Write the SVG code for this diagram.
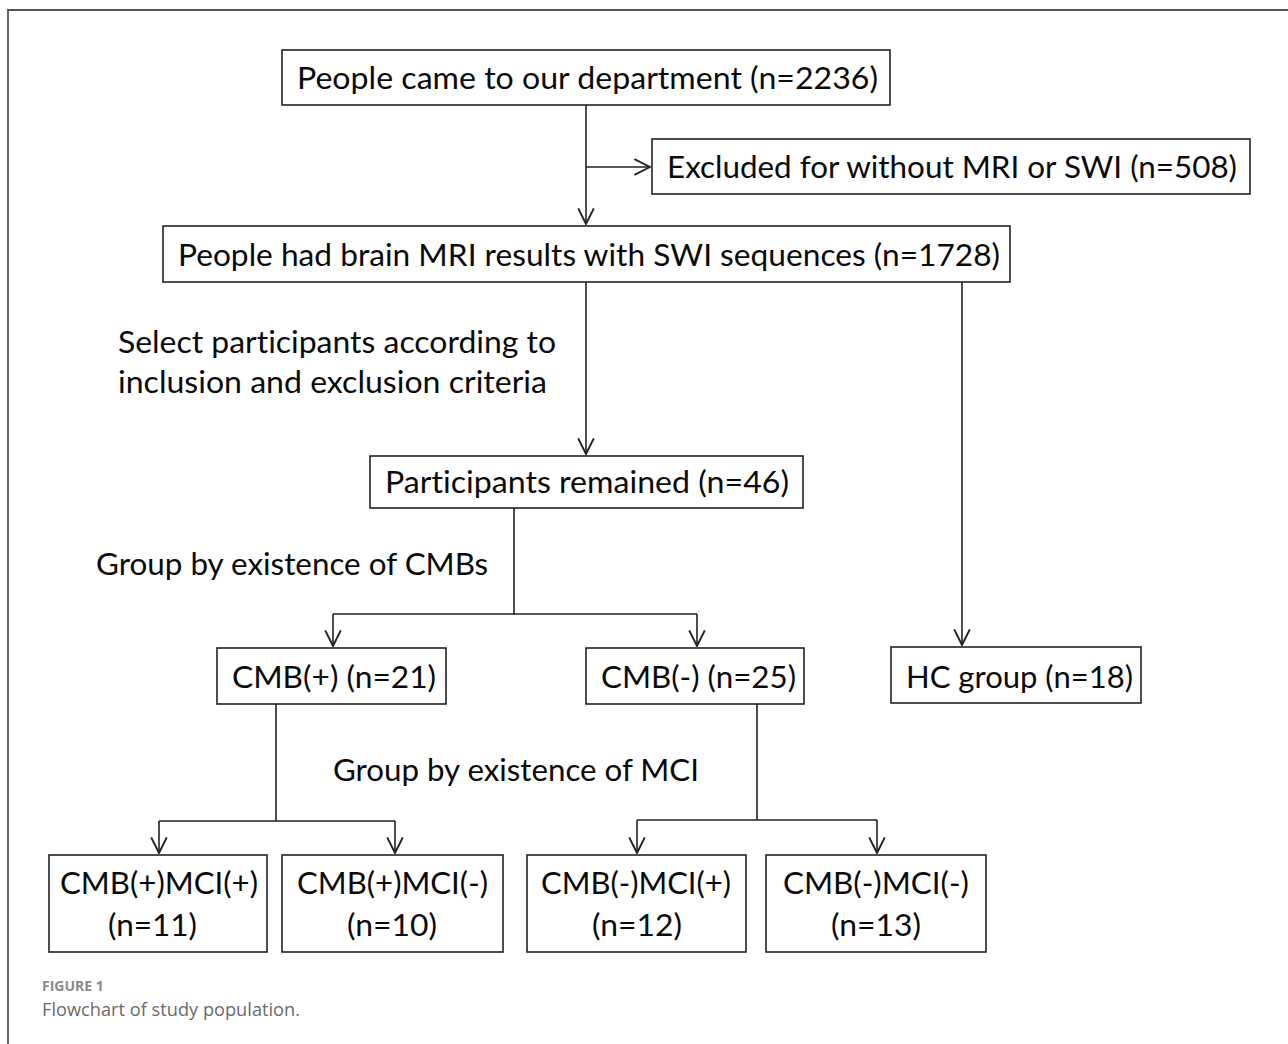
<svg xmlns="http://www.w3.org/2000/svg" width="1288" height="1044" viewBox="0 0 1288 1044">
<style>
.box{fill:#fff;stroke:#222;stroke-width:1.6}
.t{font-family:Lato,"Open Sans","Liberation Sans",sans-serif;font-size:31px;fill:#0a0a0a;font-variant-ligatures:none}
.ln{fill:none;stroke:#222;stroke-width:1.6}
.frame{fill:none;stroke:#555;stroke-width:1.8}
.cap1{font-family:"Open Sans","Noto Sans","Liberation Sans",sans-serif;font-size:14px;font-weight:bold;fill:#8a8a8a}
.cap2{font-family:"Open Sans","Noto Sans","Liberation Sans",sans-serif;font-size:19px;fill:#6a6a6a}
</style>
<defs>
<marker id="ah" markerUnits="userSpaceOnUse" markerWidth="18" markerHeight="18" viewBox="0 0 15 15" refX="14" refY="7.5" orient="auto">
<path d="M1,1 L14,7.5 L1,14" fill="none" stroke="#222" stroke-width="1.6"/>
</marker>
</defs>
<rect width="1288" height="1044" fill="#fff"/>
<path class="frame" d="M8,1044 V10 H1288"/>
<g id="connectors">
<path class="ln" d="M586,105 V224" marker-end="url(#ah)"/>
<path class="ln" d="M586,167 H650" marker-end="url(#ah)"/>
<path class="ln" d="M586,282 V454" marker-end="url(#ah)"/>
<path class="ln" d="M962,282 V645" marker-end="url(#ah)"/>
<path class="ln" d="M514,508 V614 M333,614 H697"/>
<path class="ln" d="M333,614 V646" marker-end="url(#ah)"/>
<path class="ln" d="M697,614 V646" marker-end="url(#ah)"/>
<path class="ln" d="M276,704 V821 M159,821 H395"/>
<path class="ln" d="M159,821 V853" marker-end="url(#ah)"/>
<path class="ln" d="M395,821 V853" marker-end="url(#ah)"/>
<path class="ln" d="M757,704 V820 M637,820 H877"/>
<path class="ln" d="M637,820 V853" marker-end="url(#ah)"/>
<path class="ln" d="M877,820 V853" marker-end="url(#ah)"/>
</g>
<g id="labels">
<text class="t" x="118" y="353" textLength="438" lengthAdjust="spacingAndGlyphs">Select participants according to</text>
<text class="t" x="118" y="393" textLength="429" lengthAdjust="spacingAndGlyphs">inclusion and exclusion criteria</text>
<text class="t" x="96" y="575" textLength="392" lengthAdjust="spacingAndGlyphs">Group by existence of CMBs</text>
<text class="t" x="333" y="781" textLength="366" lengthAdjust="spacingAndGlyphs">Group by existence of MCI</text>
</g>
<g id="n1"><rect class="box" x="282" y="50" width="608" height="55"/><text class="t" x="297" y="89" textLength="581" lengthAdjust="spacingAndGlyphs">People came to our department (n=2236)</text></g>
<g id="n2"><rect class="box" x="652" y="139" width="598" height="55"/><text class="t" x="667" y="178" textLength="570" lengthAdjust="spacingAndGlyphs">Excluded for without MRI or SWI (n=508)</text></g>
<g id="n3"><rect class="box" x="163" y="226" width="847" height="56"/><text class="t" x="178" y="266" textLength="822" lengthAdjust="spacingAndGlyphs">People had brain MRI results with SWI sequences (n=1728)</text></g>
<g id="n4"><rect class="box" x="370" y="456" width="433" height="52"/><text class="t" x="385" y="493" textLength="404" lengthAdjust="spacingAndGlyphs">Participants remained (n=46)</text></g>
<g id="n5"><rect class="box" x="217" y="648" width="229" height="56"/><text class="t" x="232" y="688" textLength="204" lengthAdjust="spacingAndGlyphs">CMB(+) (n=21)</text></g>
<g id="n6"><rect class="box" x="586" y="648" width="218" height="56"/><text class="t" x="601" y="688" textLength="195" lengthAdjust="spacingAndGlyphs">CMB(-) (n=25)</text></g>
<g id="n7"><rect class="box" x="891" y="647" width="250" height="56"/><text class="t" x="906" y="688" textLength="227" lengthAdjust="spacingAndGlyphs">HC group (n=18)</text></g>
<g id="n8"><rect class="box" x="49" y="855" width="218" height="97"/><text class="t" x="60" y="894" textLength="198" lengthAdjust="spacingAndGlyphs">CMB(+)MCI(+)</text><text class="t" x="108" y="936" textLength="89" lengthAdjust="spacingAndGlyphs">(n=11)</text></g>
<g id="n9"><rect class="box" x="282" y="855" width="221" height="97"/><text class="t" x="297" y="894" textLength="191" lengthAdjust="spacingAndGlyphs">CMB(+)MCI(-)</text><text class="t" x="347" y="936" textLength="90" lengthAdjust="spacingAndGlyphs">(n=10)</text></g>
<g id="n10"><rect class="box" x="527" y="855" width="219" height="97"/><text class="t" x="541" y="894" textLength="190" lengthAdjust="spacingAndGlyphs">CMB(-)MCI(+)</text><text class="t" x="592" y="936" textLength="90" lengthAdjust="spacingAndGlyphs">(n=12)</text></g>
<g id="n11"><rect class="box" x="766" y="855" width="220" height="97"/><text class="t" x="783" y="894" textLength="186" lengthAdjust="spacingAndGlyphs">CMB(-)MCI(-)</text><text class="t" x="831" y="936" textLength="90" lengthAdjust="spacingAndGlyphs">(n=13)</text></g>
<g id="caption">
<text class="cap1" x="42" y="991">FIGURE 1</text>
<text class="cap2" x="42" y="1016" textLength="258" lengthAdjust="spacingAndGlyphs">Flowchart of study population.</text>
</g>
</svg>
